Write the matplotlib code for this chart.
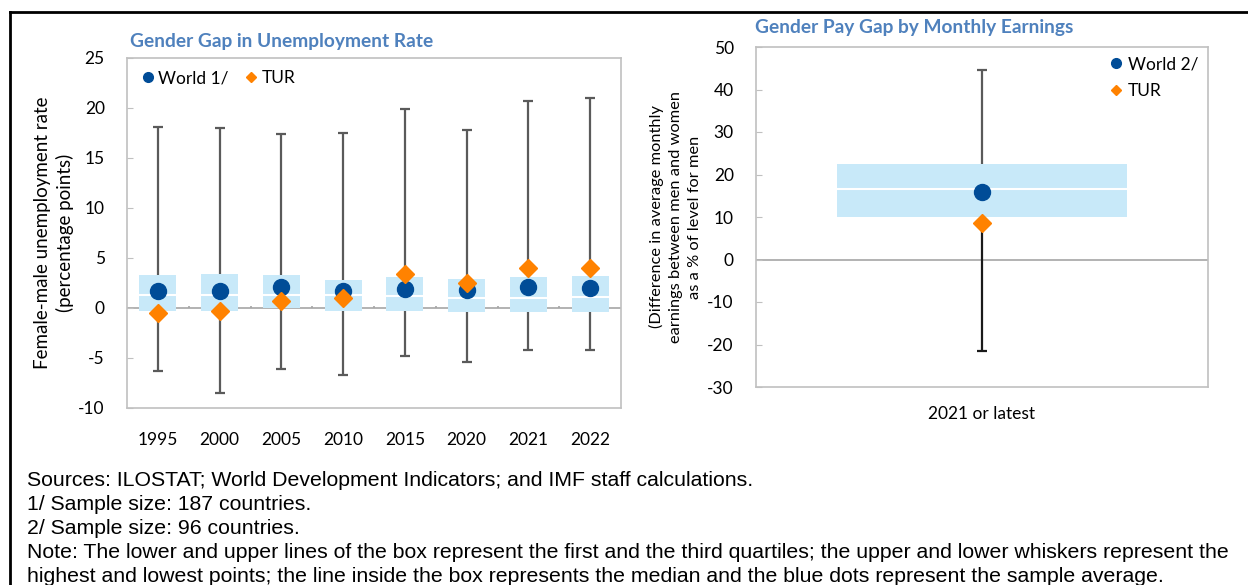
import numpy as np
import matplotlib
matplotlib.use('Agg')
import matplotlib.pyplot as plt
from matplotlib.lines import Line2D

plt.rcParams['font.family'] = ['Lato', 'DejaVu Sans']
plt.rcParams['axes.unicode_minus'] = False

# left panel: gender gap in unemployment rate
years = ['1995', '2000', '2005', '2010', '2015', '2020', '2021', '2022']
u_hi = [18.1, 18.0, 17.4, 17.5, 19.9, 17.85, 20.66, 21.0]
u_lo = [-6.26, -8.54, -6.09, -6.69, -4.83, -5.4, -4.24, -4.17]
u_q3 = [3.28, 3.44, 3.28, 2.78, 3.15, 2.91, 3.15, 3.18]
u_q1 = [-0.26, -0.33, 0.0, -0.26, -0.26, -0.4, -0.4, -0.4]
u_med = [1.26, 1.32, 1.29, 1.32, 1.19, 0.96, 0.96, 1.06]
u_mean = [1.72, 1.66, 2.09, 1.75, 1.92, 1.85, 2.09, 2.05]
u_tur = [-0.46, -0.33, 0.70, 1.03, 3.38, 2.52, 4.04, 4.0]

# right panel: gender pay gap
pay_cat = ['2021 or latest']
p_hi = [44.65]
p_lo = [-21.5]
p_q3 = [22.5]
p_q1 = [10.1]
p_med = [16.5]
p_mean = [15.9]
p_tur = [8.7]

box_c = '#C8E9F9'
dot_c = '#004C97'
tur_c = '#FF8200'
wh_c = '#5A5A5A'
frame_c = '#C0C0C0'
title_c = '#4F81BD'

W, H = 1248, 585
fig = plt.figure(figsize=(W / 100, H / 100), dpi=100)


def px(l, t, r, b):
    return [l / W, 1 - b / H, (r - l) / W, (b - t) / H]


def style_ax(ax):
    for s in ax.spines.values():
        s.set_color(frame_c)
        s.set_linewidth(1.2)
    ax.axhline(0, color='#A6A6A6', lw=1.2, zorder=1)
    ax.tick_params(axis='y', direction='in', length=4, color=frame_c,
                   labelsize=12.5, pad=16)
    ax.tick_params(axis='x', length=0, labelsize=12.5, pad=17)


# ---- left chart
ax1 = fig.add_axes(px(127, 58, 621, 408))
x = np.arange(len(years))
ax1.vlines(x, u_lo, u_hi, color=wh_c, lw=1.6, zorder=2)
ax1.hlines(u_hi, x - 0.08, x + 0.08, color=wh_c, lw=1.6, zorder=2)
ax1.hlines(u_lo, x - 0.08, x + 0.08, color=wh_c, lw=1.6, zorder=2)
ax1.bar(x, np.array(u_q3) - np.array(u_q1), bottom=u_q1, width=0.6,
        color=box_c, zorder=3)
ax1.hlines(u_med, x - 0.3, x + 0.3, color='white', lw=1.5, zorder=4)
ax1.plot(x, u_mean, 'o', color=dot_c, ms=11.5, ls='none', zorder=5)
ax1.plot(x, u_tur, 'D', color=tur_c, ms=9, ls='none', zorder=6)
# small category ticks on the zero line
ax1.vlines(x[:-1] + 0.5, 0, 0.25, color='#A6A6A6', lw=1.2, zorder=1)
ax1.set_xlim(-0.5, len(years) - 0.5)
ax1.set_ylim(-10, 25)
ax1.set_yticks(np.arange(-10, 26, 5))
ax1.set_xticks(x)
ax1.set_xticklabels(years)
style_ax(ax1)
ax1.set_ylabel('Female-male unemployment rate\n(percentage points)',
               fontsize=13.5, labelpad=3, linespacing=1.35)
h1 = [Line2D([], [], marker='o', color=dot_c, ls='none', ms=7),
      Line2D([], [], marker='D', color=tur_c, ls='none', ms=5.5)]
ax1.legend(h1, ['World 1/', 'TUR'], loc='upper left', ncol=2, frameon=False,
           fontsize=12.5, handletextpad=0.1, columnspacing=0.8,
           handlelength=1.0, borderaxespad=0.3)
fig.text(130 / W, 1 - 42 / H, 'Gender Gap in Unemployment Rate', color=title_c,
         fontsize=13.8, fontweight='bold', va='center', ha='left')

# ---- right chart
ax2 = fig.add_axes(px(756, 47, 1208, 387))
xp = np.arange(len(pay_cat))
ax2.vlines(xp, p_q3, p_hi, color=wh_c, lw=1.6, zorder=2)
ax2.vlines(xp, p_lo, p_q1, color='#1A1A1A', lw=1.6, zorder=2)
ax2.hlines(p_hi, xp - 0.012, xp + 0.012, color=wh_c, lw=1.6, zorder=2)
ax2.hlines(p_lo, xp - 0.012, xp + 0.012, color='#1A1A1A', lw=1.6, zorder=2)
ax2.bar(xp, np.array(p_q3) - np.array(p_q1), bottom=p_q1, width=0.64,
        color=box_c, zorder=3)
ax2.hlines(p_med, xp - 0.32, xp + 0.32, color='white', lw=1.5, zorder=4)
ax2.plot(xp, p_mean, 'o', color=dot_c, ms=11.5, ls='none', zorder=5)
ax2.plot(xp, p_tur, 'D', color=tur_c, ms=9, ls='none', zorder=6)
ax2.set_xlim(-0.5, 0.5)
ax2.set_ylim(-30, 50)
ax2.set_yticks(np.arange(-30, 51, 10))
ax2.set_xticks(xp)
ax2.set_xticklabels(pay_cat)
style_ax(ax2)
ax2.tick_params(axis='x', pad=14)
ax2.set_ylabel('(Difference in average monthly\nearnings between men and women\nas a % of level for men',
               fontsize=11.8, labelpad=4, linespacing=1.45)
h2 = [Line2D([], [], marker='o', color=dot_c, ls='none', ms=7),
      Line2D([], [], marker='D', color=tur_c, ls='none', ms=5.5)]
ax2.legend(h2, ['World 2/', 'TUR'], loc='upper right', frameon=False,
           fontsize=12.5, handletextpad=0.2, handlelength=1.0,
           labelspacing=0.6, borderaxespad=0.15)
fig.text(755 / W, 1 - 27 / H, 'Gender Pay Gap by Monthly Earnings', color=title_c,
         fontsize=13.8, fontweight='bold', va='center', ha='left')

# ---- notes
notes = [
    'Sources: ILOSTAT; World Development Indicators; and IMF staff calculations.',
    '1/ Sample size: 187 countries.',
    '2/ Sample size: 96 countries.',
    'Note: The lower and upper lines of the box represent the first and the third quartiles; the upper and lower whiskers represent the',
    'highest and lowest points; the line inside the box represents the median and the blue dots represent the sample average.',
]
for i, n in enumerate(notes):
    fig.text(27 / W, 1 - (481 + 24 * i) / H, n, fontsize=15.3,
             family=['Liberation Sans', 'DejaVu Sans'], va='center', ha='left')

# outer frame
fig.add_artist(Line2D([10 / W, 1], [1 - 12 / H, 1 - 12 / H], color='black', lw=2))
fig.add_artist(Line2D([10 / W, 10 / W], [0, 1 - 12 / H], color='black', lw=2))

fig.savefig('out.png', dpi=100)
